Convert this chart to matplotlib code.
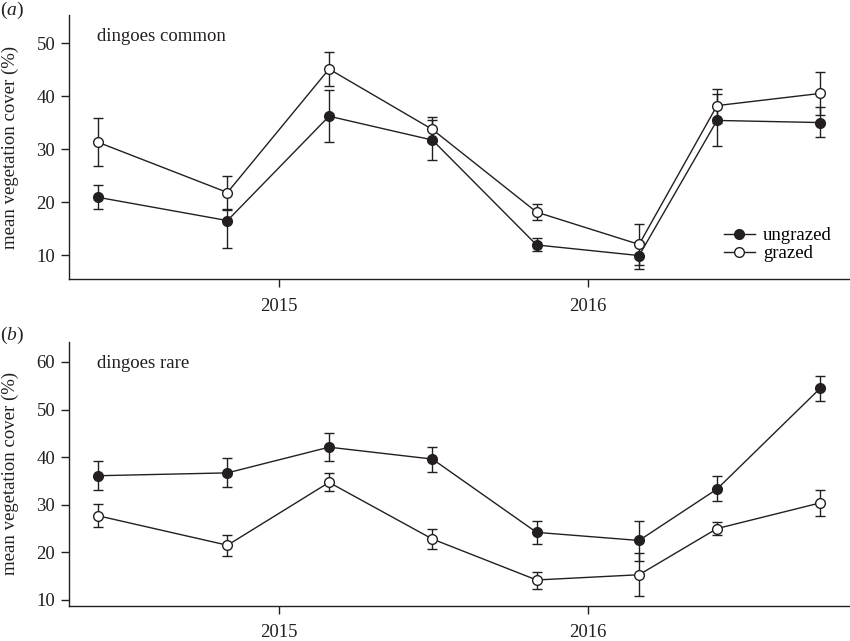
import matplotlib
matplotlib.use("Agg")
import matplotlib.pyplot as plt
import matplotlib.dates as mdates
from matplotlib.lines import Line2D
import pandas as pd
import numpy as np

plt.rcParams['font.family'] = ['Liberation Serif', 'DejaVu Serif']
plt.rcParams['mathtext.fontset'] = 'custom'
plt.rcParams['mathtext.it'] = 'Liberation Serif:italic'
plt.rcParams['mathtext.rm'] = 'Liberation Serif'

# survey dates
dates = pd.to_datetime(['2014-06-01', '2014-11-01', '2015-03-01', '2015-07-01',
                        '2015-11-01', '2016-03-01', '2016-06-01', '2016-10-01'])

# (a) dingoes common
common_ungrazed = [20.9, 16.5, 36.2, 31.7, 11.9, 9.9, 35.4, 35.0]
common_ungrazed_lo = [18.7, 11.3, 31.4, 27.9, 10.8, 7.3, 30.6, 32.2]
common_ungrazed_hi = [23.2, 18.5, 41.1, 35.5, 13.3, 12.4, 40.3, 38.0]
common_grazed = [31.3, 21.8, 45.1, 33.7, 18.1, 12.0, 38.2, 40.5]
common_grazed_lo = [26.8, 18.6, 41.9, 31.4, 16.6, 8.1, 35.0, 36.4]
common_grazed_hi = [35.8, 25.0, 48.4, 36.1, 19.7, 15.8, 41.4, 44.6]

# (b) dingoes rare
rare_ungrazed = [36.1, 36.7, 42.1, 39.6, 24.2, 22.5, 33.3, 54.5]
rare_ungrazed_lo = [33.2, 33.8, 39.1, 36.8, 21.8, 18.2, 30.8, 51.9]
rare_ungrazed_hi = [39.1, 39.9, 45.0, 42.2, 26.6, 26.5, 36.0, 57.1]
rare_grazed = [27.7, 21.5, 34.7, 22.8, 14.2, 15.3, 25.0, 30.4]
rare_grazed_lo = [25.3, 19.3, 32.8, 20.7, 12.4, 10.8, 23.7, 27.7]
rare_grazed_hi = [30.2, 23.7, 36.7, 24.9, 15.9, 19.8, 26.4, 33.0]

ink = '#231f20'
fs = 13.5

fig = plt.figure(figsize=(8.5, 6.41), dpi=100)
ax1 = fig.add_axes([0.0812, 0.5647, 0.9188, 0.4119])
ax2 = fig.add_axes([0.0812, 0.0551, 0.9188, 0.4114])


def series(ax, y, lo, hi, face):
    y = np.array(y)
    err = [y - np.array(lo), np.array(hi) - y]
    ax.errorbar(dates, y, yerr=err, color=ink, lw=1.0, elinewidth=1.0,
                capsize=3.6, capthick=1.0, marker='o', markersize=7,
                markerfacecolor=face, markeredgecolor=ink, markeredgewidth=1.0)


series(ax1, common_ungrazed, common_ungrazed_lo, common_ungrazed_hi, ink)
series(ax1, common_grazed, common_grazed_lo, common_grazed_hi, 'white')
series(ax2, rare_ungrazed, rare_ungrazed_lo, rare_ungrazed_hi, ink)
series(ax2, rare_grazed, rare_grazed_lo, rare_grazed_hi, 'white')

ax1.set_ylim(5.47, 55.3)
ax1.set_yticks([10, 20, 30, 40, 50])
ax2.set_ylim(8.8, 64.2)
ax2.set_yticks([10, 20, 30, 40, 50, 60])

for ax in (ax1, ax2):
    ax.set_xlim(pd.Timestamp('2014-04-28'), pd.Timestamp('2016-11-05'))
    ax.set_xticks(pd.to_datetime(['2015-01-01', '2016-01-01']))
    ax.xaxis.set_major_formatter(mdates.DateFormatter('%Y'))
    for s in ('top', 'right'):
        ax.spines[s].set_visible(False)
    for s in ('left', 'bottom'):
        ax.spines[s].set_color(ink)
        ax.spines[s].set_linewidth(1.0)
    ax.tick_params(direction='out', length=6, width=1.0, colors=ink,
                   labelsize=fs, labelcolor=ink, pad=4)
    ax.tick_params(axis='x', pad=7.5)
    ax.set_ylabel('mean vegetation cover (%)', fontsize=fs, color=ink)
    ax.yaxis.set_label_coords(-0.064, 0.5)

ax1.text(0.036, 0.92, 'dingoes common', transform=ax1.transAxes, fontsize=fs,
         color=ink, va='center')
ax2.text(0.036, 0.92, 'dingoes rare', transform=ax2.transAxes, fontsize=fs,
         color=ink, va='center')

fig.text(0.0, 0.984, r'($\it{a}$)', fontsize=14, color=ink, va='center')
fig.text(0.0, 0.477, r'($\it{b}$)', fontsize=14, color=ink, va='center')

handles = [
    Line2D([], [], color=ink, lw=1.0, marker='o', markersize=7,
           markerfacecolor=ink, markeredgecolor=ink, label='ungrazed'),
    Line2D([], [], color=ink, lw=1.0, marker='o', markersize=7,
           markerfacecolor='white', markeredgecolor=ink, label='grazed'),
]
ax1.legend(handles=handles, loc='upper left', bbox_to_anchor=(0.8387, 0.197),
           frameon=False, fontsize=fs, handlelength=1.65, handletextpad=0.43,
           labelspacing=0.05, borderaxespad=0, borderpad=0)

fig.savefig('out.png', dpi=100)
